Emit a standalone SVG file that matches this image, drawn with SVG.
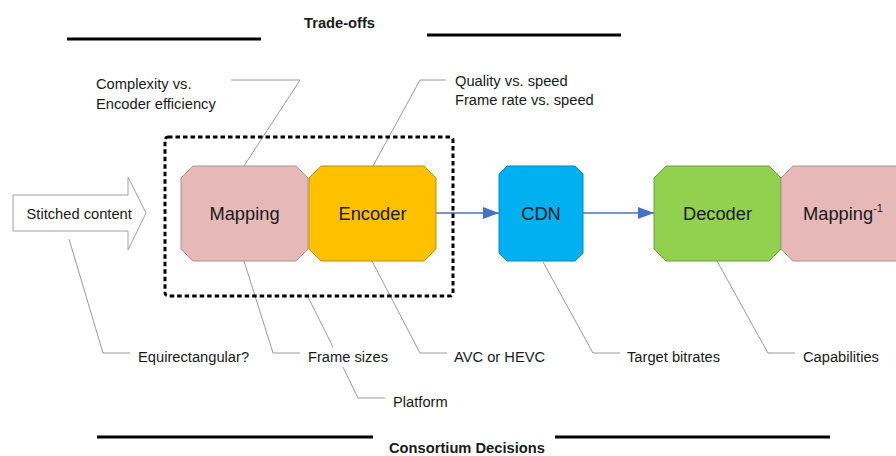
<svg xmlns="http://www.w3.org/2000/svg" width="896" height="456" viewBox="0 0 896 456">
<style>
.t{font-family:"Liberation Sans",Arial,sans-serif;fill:#1a1a1a}
.lbl{font-size:14.7px}
.node{font-size:18.3px}
.bold{font-size:14.7px;font-weight:bold}
.call{fill:none;stroke:#808080;stroke-width:0.8}
.bar{stroke:#000;stroke-width:3}
.flow{stroke:#4472C4;stroke-width:1.5;fill:none}
</style>
<defs>
<marker id="ah" markerWidth="16" markerHeight="12" refX="16" refY="6" orient="auto" markerUnits="userSpaceOnUse">
<path d="M0,0 L16,6 L0,12 Z" fill="#4472C4"/>
</marker>
</defs>
<rect width="896" height="456" fill="#fff"/>

<g id="titles">
<line class="bar" x1="67" y1="39" x2="261" y2="39"/>
<line class="bar" x1="427" y1="35" x2="621" y2="35"/>
<text class="t bold" x="304" y="28">Trade-offs</text>
<line class="bar" x1="97" y1="437" x2="373" y2="437"/>
<line class="bar" x1="555" y1="437" x2="830" y2="437"/>
<text class="t bold" x="389" y="453">Consortium Decisions</text>
</g>

<g id="connectors">
<line class="flow" x1="436" y1="213" x2="499" y2="213" marker-end="url(#ah)"/>
<line class="flow" x1="583" y1="213" x2="654" y2="213" marker-end="url(#ah)"/>
<polyline class="call" points="231,80 300,80 244,166"/>
<polyline class="call" points="446,80 420,80 373,166"/>
<polyline class="call" points="69,239 103,353 130,353"/>
<polyline class="call" points="244,261 273,353 300,353"/>
<polyline class="call" points="308,297 333,347"/>
<polyline class="call" points="343,367 358,398 385,398"/>
<polyline class="call" points="372,261 420,353 447,353"/>
<polyline class="call" points="543,262 593,353 620,353"/>
<polyline class="call" points="717,261 768,353 795,353"/>
</g>

<g id="group-box">
<rect x="165" y="137" width="288" height="159" rx="3" fill="none" stroke="#000" stroke-width="3" stroke-dasharray="4.5 3"/>
</g>

<g id="stitched">
<path d="M13,195 H128 V177 L146,213 L128,250 V231 H13 Z" fill="#fff" stroke="#a0a0a0" stroke-width="1"/>
<text class="t lbl" x="26.5" y="219">Stitched content</text>
</g>

<g id="mapping">
<polygon points="193,166 296,166 308,178 308,249 296,261 193,261 181,249 181,178" fill="#E6B8B7" stroke="#A89494" stroke-width="1"/>
<text class="t node" x="244.5" y="219.5" text-anchor="middle">Mapping</text>
</g>

<g id="encoder">
<polygon points="321,166 424,166 436,178 436,249 424,261 321,261 309,249 309,178" fill="#FFC000" stroke="#BF9000" stroke-width="1"/>
<text class="t node" x="372.5" y="219.5" text-anchor="middle">Encoder</text>
</g>

<g id="cdn">
<polygon points="507,166 575,166 583,174 583,253 575,261 507,261 499,253 499,174" fill="#00B0F0" stroke="#0088BB" stroke-width="1"/>
<text class="t node" x="541" y="219.5" text-anchor="middle">CDN</text>
</g>

<g id="decoder">
<polygon points="666,166 769,166 781,178 781,249 769,261 666,261 654,249 654,178" fill="#92D050" stroke="#6E9E3C" stroke-width="1"/>
<text class="t node" x="717.5" y="219.5" text-anchor="middle">Decoder</text>
</g>

<g id="mapping-inv">
<polygon points="793,166 896,166 908,178 908,249 896,261 793,261 781,249 781,178" fill="#E6B8B7" stroke="#A89494" stroke-width="1"/>
<text class="t node" x="803" y="219.5">Mapping<tspan font-size="11" dy="-8">-1</tspan></text>
</g>

<g id="labels">
<text class="t lbl" x="96" y="88.5">Complexity vs.</text>
<text class="t lbl" x="96" y="109">Encoder efficiency</text>
<text class="t lbl" x="455" y="86">Quality vs. speed</text>
<text class="t lbl" x="455" y="105">Frame rate vs. speed</text>
<text class="t lbl" x="138" y="362">Equirectangular?</text>
<text class="t lbl" x="308" y="362">Frame sizes</text>
<text class="t lbl" x="393" y="407">Platform</text>
<text class="t lbl" x="454" y="362">AVC or HEVC</text>
<text class="t lbl" x="627" y="362">Target bitrates</text>
<text class="t lbl" x="803" y="362">Capabilities</text>
</g>
</svg>
